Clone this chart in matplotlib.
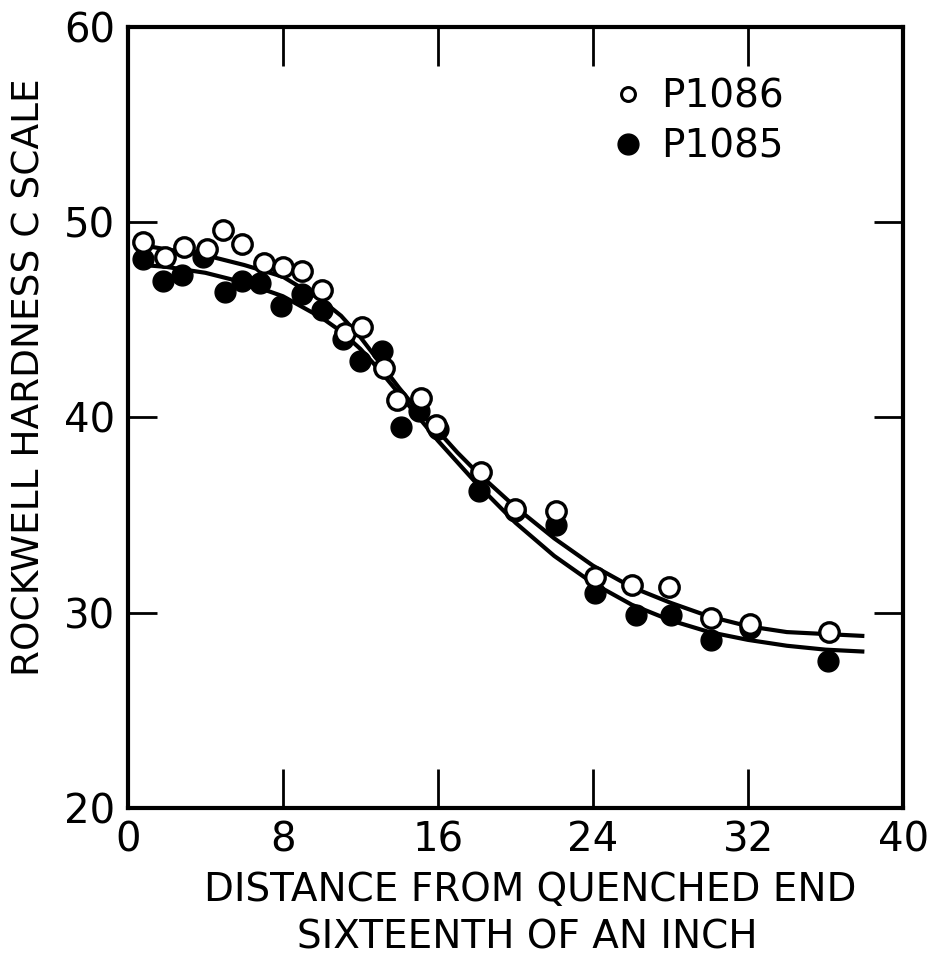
import matplotlib
matplotlib.use("Agg")
import matplotlib.pyplot as plt
from matplotlib.lines import Line2D

# measured points, P1086 (open circles)
x_1086 = [0.8, 1.9, 2.9, 4.1, 4.9, 5.9, 7.0, 8.0, 9.0, 10.0, 11.2, 12.1,
          13.2, 13.9, 15.1, 15.9, 18.2, 20.0, 22.1, 24.1, 26.0, 27.9, 30.1, 32.1, 36.2]
y_1086 = [49.0, 48.2, 48.7, 48.6, 49.6, 48.9, 47.9, 47.7, 47.5, 46.5, 44.3, 44.6,
          42.5, 40.9, 41.0, 39.6, 37.2, 35.3, 35.2, 31.8, 31.4, 31.3, 29.7, 29.4, 29.0]

# measured points, P1085 (filled circles)
x_1085 = [0.8, 1.8, 2.8, 3.9, 5.0, 5.9, 6.8, 7.9, 9.0, 10.0, 11.1, 12.0,
          13.1, 14.1, 15.0, 16.0, 18.1, 20.0, 22.1, 24.1, 26.2, 28.0, 30.1, 32.1, 36.1]
y_1085 = [48.1, 47.0, 47.3, 48.2, 46.4, 47.0, 46.9, 45.7, 46.3, 45.5, 44.0, 42.9,
          43.4, 39.5, 40.3, 39.4, 36.2, 35.2, 34.5, 31.0, 29.9, 29.9, 28.6, 29.2, 27.5]

# hand-drawn fitted curves
curve_x = [0.8, 2, 4, 6, 8, 10, 11, 12, 13, 14, 15, 16, 17, 18, 20, 22, 24, 26,
           28, 30, 32, 34, 36, 38]
curve_1086 = [48.8, 48.6, 48.3, 47.8, 47.2, 46.0, 45.2, 44.1, 42.8, 41.5, 40.3, 39.3,
              38.2, 37.2, 35.4, 33.8, 32.4, 31.3, 30.5, 29.8, 29.3, 29.0, 28.9, 28.8]
curve_1085 = [47.8, 47.7, 47.4, 46.9, 46.2, 45.1, 44.4, 43.5, 42.4, 41.2, 40.0, 38.8,
              37.7, 36.6, 34.6, 32.9, 31.5, 30.4, 29.6, 29.0, 28.6, 28.3, 28.1, 28.0]

x_ticks = [0, 8, 16, 24, 32, 40]
y_ticks = [20, 30, 40, 50, 60]

fig = plt.figure(figsize=(9.33, 9.56), dpi=100)
ax = fig.add_axes([0.137, 0.155, 0.831, 0.817])

ax.plot(curve_x, curve_1086, color="black", lw=3, solid_capstyle="butt")
ax.plot(curve_x, curve_1085, color="black", lw=3, solid_capstyle="butt")
ax.plot(x_1085, y_1085, "o", ms=15, color="black", mec="black")
ax.plot(x_1086, y_1086, "o", ms=14, mfc="white", mec="black", mew=2.4)

ax.set_xlim(0, 40)
ax.set_ylim(20, 60)
ax.set_xticks(x_ticks)
ax.set_yticks(y_ticks)
ax.tick_params(axis="x", direction="in", length=28, width=2, top=True, labelsize=29, pad=9)
ax.tick_params(axis="y", direction="in", length=21, width=2, right=True, labelsize=29, pad=9)
for s in ax.spines.values():
    s.set_linewidth(3)

h1 = Line2D([], [], marker="o", ls="", ms=10, mfc="white", mec="black", mew=2.2)
h2 = Line2D([], [], marker="o", ls="", ms=15, color="black")
ax.legend([h1, h2], ["P1086", "P1085"], loc="upper left", bbox_to_anchor=(0.605, 0.955),
          frameon=False, fontsize=28, handlelength=0.8, handletextpad=0.45,
          labelspacing=0.3, borderaxespad=0)

fig.text(0.032, 0.605, "ROCKWELL HARDNESS C SCALE", rotation=90, fontsize=27,
         ha="center", va="center")
fig.text(0.568, 0.069, "DISTANCE FROM QUENCHED END", fontsize=28, ha="center", va="center")
fig.text(0.565, 0.019, "SIXTEENTH OF AN INCH", fontsize=28, ha="center", va="center")

fig.savefig("out.png", dpi=100, facecolor="white")
